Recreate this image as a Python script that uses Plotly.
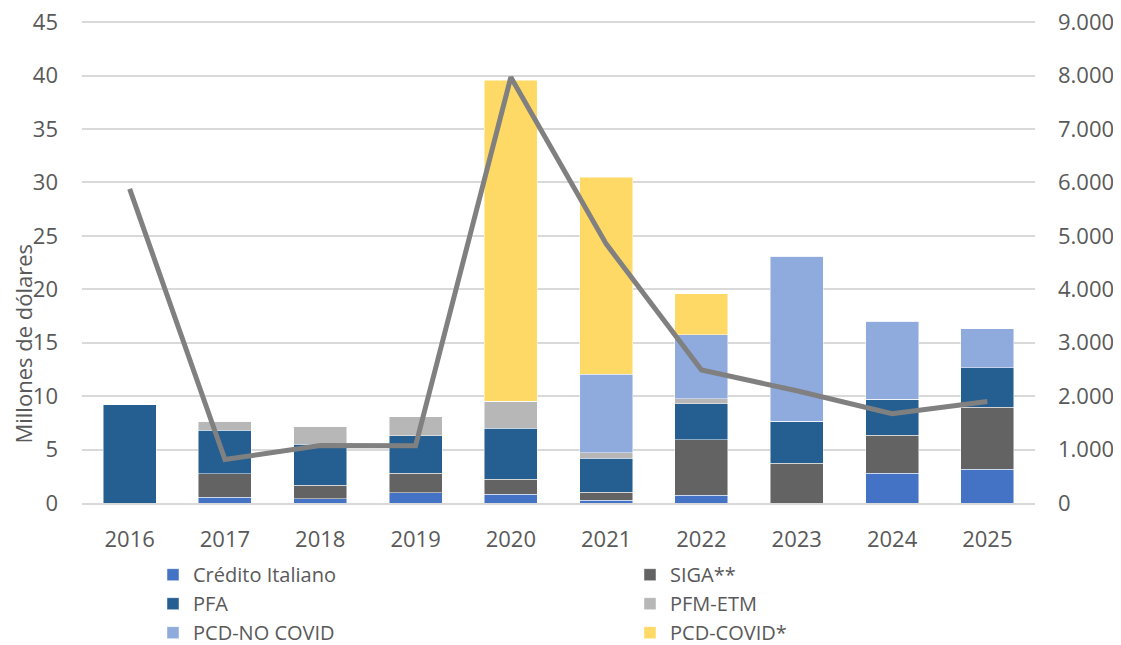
import plotly.graph_objects as go

years = ['2016', '2017', '2018', '2019', '2020', '2021', '2022', '2023', '2024', '2025']

credito_italiano = [0, 0.56, 0.40, 0.96, 0.80, 0.28, 0.72, 0, 2.77, 3.14]
siga = [0, 2.17, 1.25, 1.81, 1.40, 0.74, 5.22, 3.73, 3.57, 5.81]
pfa = [9.20, 4.07, 3.85, 3.54, 4.80, 3.15, 3.35, 3.91, 3.38, 3.73]
pfm_etm = [0, 0.87, 1.70, 1.74, 2.50, 0.55, 0.47, 0, 0, 0]
pcd_no_covid = [0, 0, 0, 0, 0, 7.33, 6.00, 15.45, 7.31, 3.62]
pcd_covid = [0, 0, 0, 0, 30.05, 18.45, 3.80, 0, 0, 0]

# serie de la línea (eje derecho)
linea = [5880, 815, 1075, 1070, 7970, 4850, 2490, 2100, 1670, 1900]

left_ticks = [0, 5, 10, 15, 20, 25, 30, 35, 40, 45]
right_ticks = [0, 1000, 2000, 3000, 4000, 5000, 6000, 7000, 8000, 9000]

FONT = 'Open Sans'
TEXT_COLOR = '#595959'
GRID = '#D9D9D9'

series = [
    ('Crédito Italiano', credito_italiano, '#4472C4'),
    ('SIGA**', siga, '#636363'),
    ('PFA', pfa, '#255E91'),
    ('PFM-ETM', pfm_etm, '#B7B7B7'),
    ('PCD-NO COVID', pcd_no_covid, '#8FAADC'),
    ('PCD-COVID*', pcd_covid, '#FFD966'),
]

fig = go.Figure()
for name, values, color in series:
    fig.add_trace(go.Bar(
        name=name, x=years, y=values,
        marker=dict(color=color, line=dict(color='rgba(255,255,255,0.6)', width=0.8)),
    ))

fig.add_trace(go.Scatter(
    x=years, y=linea, yaxis='y2', mode='lines', showlegend=False,
    line=dict(color='#808080', width=5),
))

# la página tiene 8px de margen en body: la figura se reduce en consecuencia
fig.update_layout(
    width=1113,
    height=637,
    barmode='stack',
    bargap=0.444,
    separators=',.',
    plot_bgcolor='white',
    paper_bgcolor='white',
    font=dict(family=FONT, size=22, color=TEXT_COLOR),
    margin=dict(l=74, r=86, t=12, b=142, autoexpand=False),
    xaxis=dict(
        showgrid=False,
        showline=True,
        linecolor=GRID,
        linewidth=1.5,
        ticks='',
        ticklabelstandoff=16,
        tickfont=dict(size=22, color=TEXT_COLOR),
    ),
    yaxis=dict(
        range=[0, 45.2],
        tickvals=left_ticks,
        showgrid=True,
        gridcolor=GRID,
        gridwidth=1.5,
        zeroline=False,
        ticklabelstandoff=23,
        ticklabeloverflow='allow',
        tickfont=dict(size=22, color=TEXT_COLOR),
    ),
    yaxis2=dict(
        overlaying='y',
        side='right',
        range=[0, 9040],
        tickvals=right_ticks,
        tickformat=',d',
        showgrid=False,
        zeroline=False,
        ticklabelstandoff=22,
        ticklabeloverflow='allow',
        tickfont=dict(size=22, color=TEXT_COLOR),
    ),
    legend=dict(
        orientation='h',
        x=0.0745,
        xanchor='left',
        y=-0.108,
        yanchor='top',
        entrywidthmode='pixels',
        entrywidth=432,
        traceorder='normal',
        font=dict(size=20, color=TEXT_COLOR),
        bgcolor='rgba(0,0,0,0)',
    ),
    showlegend=True,
)

fig.add_annotation(
    text='Millones de dólares',
    xref='paper', yref='paper',
    x=-0.062, y=0.33,
    xanchor='center', yanchor='middle',
    textangle=-90,
    showarrow=False,
    font=dict(size=22, color=TEXT_COLOR),
)

fig.write_html('out.html')
